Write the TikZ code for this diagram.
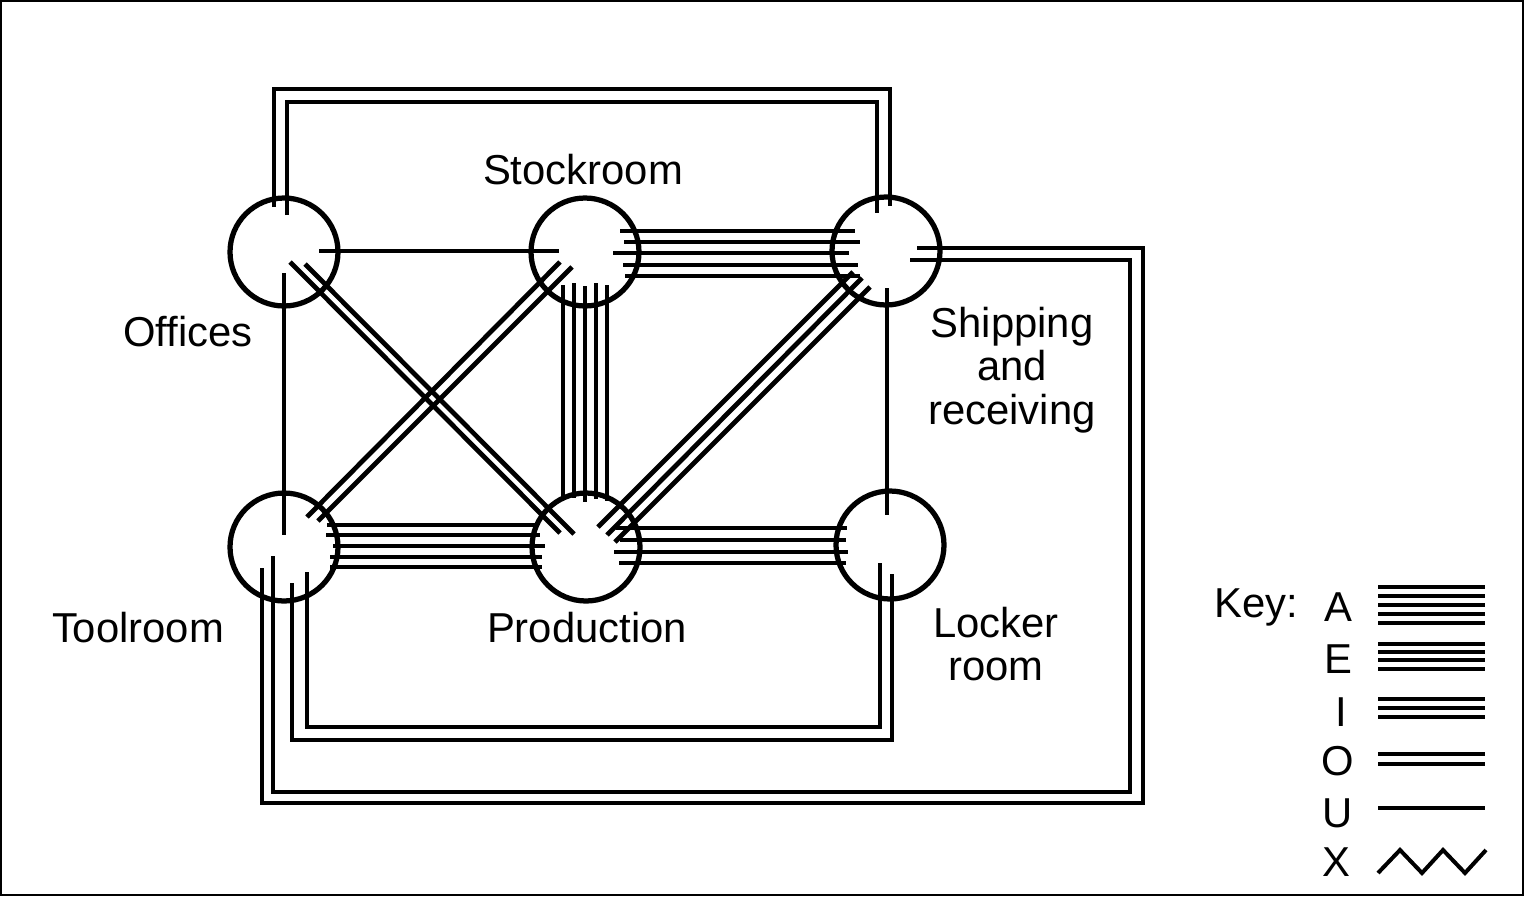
\documentclass[tikz,border=0pt]{standalone}
\usepackage{fontspec}
\setmainfont{Liberation Sans}
\usetikzlibrary{calc}

\begin{document}
\begin{tikzpicture}[x=0.02cm,y=-0.02cm,
  rm/.style={draw,circle,line width=0.105cm,minimum size=2.16cm,inner sep=0pt},
  ln/.style={line width=0.095cm},
  kl/.style={line width=0.08cm},
  lb/.style={font=\fontsize{23.8}{24.7}\selectfont,align=center,inner sep=0pt}]
\useasboundingbox (0,0) rectangle (1524,896);
\draw[line width=0.03cm] (1,1) rectangle (1523,895);
\node[rm] (off) at (284,252) {};
\node[rm] (stk) at (585,252) {};
\node[rm] (shp) at (886,251) {};
\node[rm] (tool) at (284,547) {};
\node[rm] (prod) at (586,547) {};
\node[rm] (lock) at (890,545) {};
\node[lb] (offl) at (188,332) {Offices};
\node[lb] (stkl) at (583,170) {Stockroom};
\node[lb] (shpl) at (1012,370) {Shipping\\and\\receiving};
\node[lb] (tooll) at (138,628) {Toolroom};
\node[lb] (prodl) at (587,628) {Production};
\node[lb] (lockl) at (996,644) {Locker\\room};
% U
\draw[ln] ($(off)+(35,-1)$) -- ($(stk)+(-26,-1)$);
\draw[ln] ($(off)+(0,21)$) -- ($(tool)+(0,-12)$);
\draw[ln] ($(shp)+(1,37)$) -- ($(lock)+(-3,-30)$);
% O
\draw[ln] ($(off)+(-10,-45)$) -- ++(0,-118) -| ($(shp)+(4,-45)$);
\draw[ln] ($(off)+(3,-37)$) -- ++(0,-113) -| ($(shp)+(-9,-38)$);
\draw[ln] ($(shp)+(31,-3)$) -- ++(226,0) -- ++(0,555) -| ($(tool)+(-22,21)$);
\draw[ln] ($(shp)+(24,9)$) -- ++(220,0) -- ++(0,532) -| ($(tool)+(-11,9)$);
\draw[ln] ($(tool)+(8,36)$) -- ++(0,157) -| ($(lock)+(2,29)$);
\draw[ln] ($(tool)+(23,25)$) -- ++(0,155) -| ($(lock)+(-10,18)$);
\draw[ln] ($(off)+(6,10)$) -- ($(prod)+(-26,-14)$);
\draw[ln] ($(off)+(21,12)$) -- ($(prod)+(-12,-13)$);
\draw[ln] ($(stk)+(-25,10)$) -- ($(tool)+(23,-30)$);
\draw[ln] ($(stk)+(-13,15)$) -- ($(tool)+(34,-26)$);
% I
\draw[ln] ($(shp)+(-33,21)$) -- ($(prod)+(12,-20)$);
\draw[ln] ($(shp)+(-24,27)$) -- ($(prod)+(21,-12)$);
\draw[ln] ($(shp)+(-16,36)$) -- ($(prod)+(29,-5)$);
% E
\draw[ln] ($(prod)+(30,-19)$) -- ($(lock)+(-43,-17)$);
\draw[ln] ($(prod)+(34,-7)$) -- ($(lock)+(-44,-5)$);
\draw[ln] ($(prod)+(28,5)$) -- ($(lock)+(-42,7)$);
\draw[ln] ($(prod)+(33,16)$) -- ($(lock)+(-44,18)$);
% A
\draw[ln] ($(stk)+(35,-21)$) -- ($(shp)+(-31,-20)$);
\draw[ln] ($(stk)+(39,-10)$) -- ($(shp)+(-26,-9)$);
\draw[ln] ($(stk)+(28,1)$) -- ($(shp)+(-37,2)$);
\draw[ln] ($(stk)+(38,13)$) -- ($(shp)+(-28,14)$);
\draw[ln] ($(stk)+(40,24)$) -- ($(shp)+(-26,25)$);
\draw[ln] ($(stk)+(-22,33)$) -- ($(prod)+(-23,-47)$);
\draw[ln] ($(stk)+(-11,31)$) -- ($(prod)+(-12,-49)$);
\draw[ln] ($(stk)+(0,34)$) -- ($(prod)+(-1,-45)$);
\draw[ln] ($(stk)+(11,31)$) -- ($(prod)+(10,-48)$);
\draw[ln] ($(stk)+(22,33)$) -- ($(prod)+(21,-46)$);
\draw[ln] ($(tool)+(43,-22)$) -- ($(prod)+(-49,-22)$);
\draw[ln] ($(tool)+(42,-12)$) -- ($(prod)+(-46,-12)$);
\draw[ln] ($(tool)+(49,-1)$) -- ($(prod)+(-41,-1)$);
\draw[ln] ($(tool)+(46,10)$) -- ($(prod)+(-44,10)$);
\draw[ln] ($(tool)+(46,20)$) -- ($(prod)+(-44,20)$);
% key
\node[lb] (key) at (1256,607) {Key:};
\node[lb] (ka) at (1338,607) {A};
\node[lb] (ke) at (1338,659) {E};
\node[lb] (ki) at (1341,712) {I};
\node[lb] (ko) at (1338,761) {O};
\node[lb] (ku) at (1338,813) {U};
\node[lb] (kx) at (1336,862) {X};
\draw[kl] (1378,587) -- (1485,587);
\draw[kl] (1378,596) -- (1485,596);
\draw[kl] (1378,605) -- (1485,605);
\draw[kl] (1378,614) -- (1485,614);
\draw[kl] (1378,623) -- (1485,623);
\draw[kl] (1378,644) -- (1485,644);
\draw[kl] (1378,652) -- (1485,652);
\draw[kl] (1378,660) -- (1485,660);
\draw[kl] (1378,669) -- (1485,669);
\draw[kl] (1378,699) -- (1485,699);
\draw[kl] (1378,708) -- (1485,708);
\draw[kl] (1378,717) -- (1485,717);
\draw[kl] (1378,754) -- (1485,754);
\draw[kl] (1378,764) -- (1485,764);
\draw[kl] (1378,808) -- (1485,808);
\draw[kl] (1378,873) -- (1400,850) -- (1422,873) -- (1443,850) -- (1465,873) -- (1486,850);
\end{tikzpicture}
\end{document}
